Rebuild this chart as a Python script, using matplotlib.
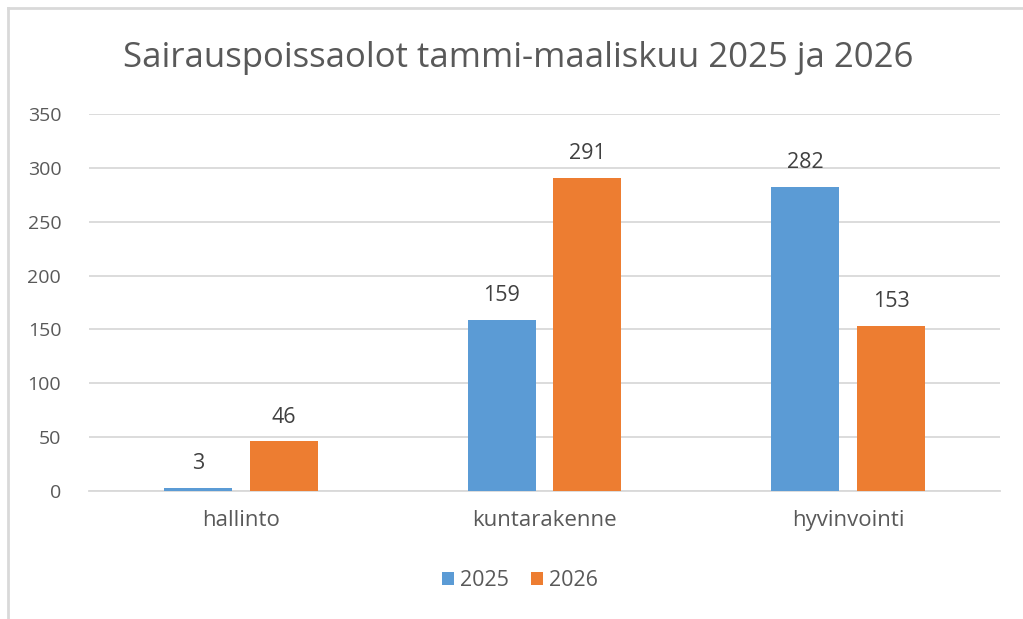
import matplotlib.pyplot as plt
import numpy as np
from matplotlib.lines import Line2D

plt.rcParams['font.family'] = ['Open Sans', 'DejaVu Sans']

categories = ['hallinto', 'kuntarakenne', 'hyvinvointi']
vals_2025 = [3, 159, 282]
vals_2026 = [46, 291, 153]
series_names = ['2025', '2026']

blue = '#5B9BD5'
orange = '#ED7D31'
txt = '#595959'

fig = plt.figure(figsize=(10.23, 6.19), dpi=100)
ax = fig.add_axes([89/1023, 1-491/619, 911/1023, 377/619])

x = np.arange(len(categories))
w = 0.224
b1 = ax.bar(x - 0.141, vals_2025, w, color=blue, label=series_names[0], zorder=3)
b2 = ax.bar(x + 0.141, vals_2026, w, color=orange, label=series_names[1], zorder=3)

for bars in (b1, b2):
    for r in bars:
        ax.annotate(str(int(r.get_height())), (r.get_x() + r.get_width()/2, r.get_height()),
                    xytext=(0, 10), textcoords='offset points', ha='center', va='bottom',
                    fontsize=15.5, color='#404040')

ax.set_xlim(-0.5, 2.5)
ax.set_ylim(0, 350)
ax.set_yticks(range(0, 351, 50))
ax.set_xticks(x)
ax.set_xticklabels(categories)
ax.grid(axis='y', color='#D9D9D9', linewidth=1.3, zorder=0)
for s in ['top', 'right', 'left']:
    ax.spines[s].set_visible(False)
ax.spines['bottom'].set_color('#D9D9D9')
ax.spines['bottom'].set_linewidth(1.3)
ax.tick_params(axis='y', length=0, labelsize=14, colors=txt, pad=20)
ax.tick_params(axis='x', length=0, labelsize=16, colors=txt, pad=14)

fig.suptitle('Sairauspoissaolot tammi-maaliskuu 2025 ja 2026', x=518/1023, y=1-58/619,
             va='center', fontsize=25, color=txt)

fig.legend(handles=[b1, b2], loc='center', bbox_to_anchor=(520/1023, 1-581/619), ncol=2,
           frameon=False, fontsize=15.5, labelcolor=txt, handlelength=0.55, handleheight=0.55,
           handletextpad=0.3, columnspacing=1.0)

# chart frame (only left and top visible in the crop)
fig.add_artist(Line2D([8/1023, 8/1023], [0, 1-8/619], color='#D9D9D9', lw=2, transform=fig.transFigure))
fig.add_artist(Line2D([8/1023, 1], [1-8/619, 1-8/619], color='#D9D9D9', lw=2, transform=fig.transFigure))

fig.savefig('out.png', dpi=100)
